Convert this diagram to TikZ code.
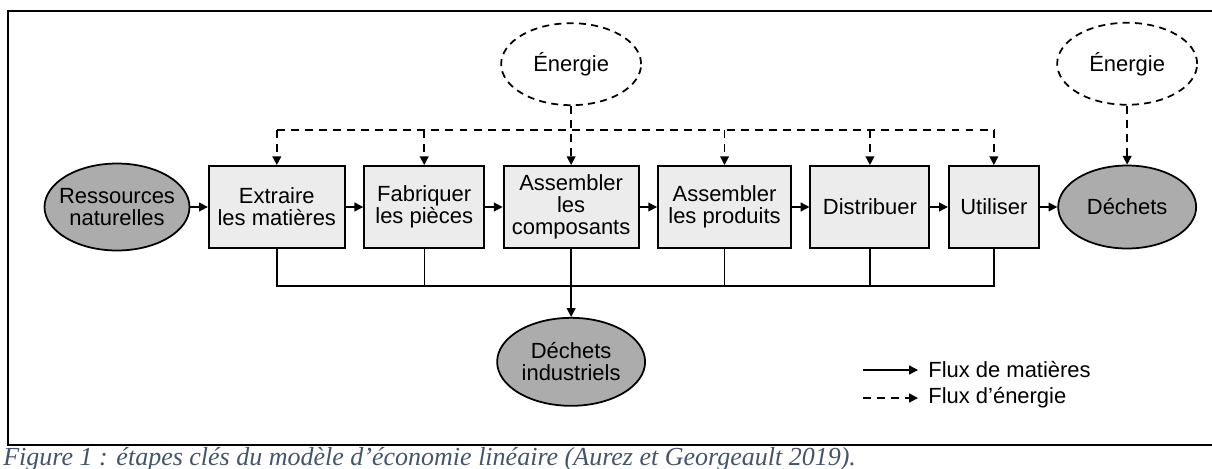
\documentclass[tikz,border=0pt]{standalone}
\usepackage{fontspec}
\setmainfont{Liberation Sans}
\newfontfamily\captionfont{Liberation Serif}
\usetikzlibrary{arrows.meta,positioning,shapes.geometric}
\definecolor{stagefill}{RGB}{236,236,236}
\definecolor{matterfill}{RGB}{172,172,172}
\definecolor{captionblue}{RGB}{68,84,106}

\begin{document}
\begin{tikzpicture}[x=0.02cm, y=-0.02cm,
    every node/.style={font=\fontsize{12.5}{12.5}\selectfont},
    stage/.style={draw, line width=1.1pt, fill=stagefill, minimum height=1.64cm, align=center, inner sep=1pt},
    matter/.style={draw, ellipse, line width=1pt, fill=matterfill, align=center, inner xsep=-5pt, inner ysep=0pt},
    energy/.style={draw, ellipse, line width=1pt, dash pattern=on 4pt off 3pt, minimum width=2.8cm, minimum height=1.64cm},
    mflow/.style={line width=0.8pt},
    eflow/.style={line width=0.9pt, dash pattern=on 4.5pt off 3.5pt},
    >={Triangle[length=5pt,width=5pt]},
    node distance=0.35cm]
    \useasboundingbox (0,0) rectangle (1212,468);
    \draw[line width=1.2pt] (1212,11) -- (8,11) -- (8,445) -- (1212,445);

    \node[matter, minimum width=2.9cm, minimum height=1.74cm] (res) at (117,207) {Ressources\\naturelles};
    \node[stage, minimum width=2.72cm, right=of res] (ext) {Extraire\\les matières};
    \node[stage, minimum width=2.4cm, right=of ext] (fab) {Fabriquer\\les pièces};
    \node[stage, minimum width=2.7cm, right=of fab] (comp) {Assembler\\les\\composants};
    \node[stage, minimum width=2.66cm, right=of comp] (prod) {Assembler\\les produits};
    \node[stage, minimum width=2.38cm, right=of prod] (dist) {Distribuer};
    \node[stage, minimum width=1.8cm, right=of dist] (util) {Utiliser};
    \node[matter, minimum width=2.76cm, minimum height=1.66cm, right=of util] (dech) {Déchets};
    \node[energy, above=1.18cm of comp] (en1) {Énergie};
    \node[energy, above=1.18cm of dech] (en2) {Énergie};
    \node[matter, minimum width=2.96cm, minimum height=1.76cm, below=1.36cm of comp] (dind) {Déchets\\industriels};

    \coordinate (ebus) at (0,130);
    \coordinate (mbus) at (0,286);
    \draw[eflow] (ebus -| ext) -- (ebus -| util);
    \foreach \s in {ext,fab,prod,dist,util}
        \draw[eflow,->] (ebus -| \s) -- (\s);
    \draw[eflow,->] (en1) -- (comp);
    \draw[eflow,->] (en2) -- (dech);

    \foreach \a/\b in {res/ext,ext/fab,fab/comp,comp/prod,prod/dist,dist/util,util/dech}
        \draw[mflow,->] (\a) -- (\b);
    \draw[mflow] (ext) -- (ext |- mbus) -- (util |- mbus) -- (util);
    \foreach \s in {fab,prod,dist}
        \draw[mflow] (\s) -- (\s |- mbus);
    \draw[mflow,->] (comp) -- (dind);

    \coordinate (lgm) at (863,370);
    \coordinate (lge) at (863,398);
    \node[anchor=west, inner xsep=5.7pt, inner ysep=0pt] (lgmt) at (918,370) {Flux de matières};
    \node[anchor=west, inner xsep=5.7pt, inner ysep=0pt] (lget) at (918,398) {Flux d’énergie};
    \draw[mflow,->] (lgm) -- (lgmt.west);
    \draw[eflow,->] (lge) -- (lget.west);

    \node[anchor=base west, inner sep=0pt, text=captionblue,
          font=\captionfont\itshape\fontsize{14.8}{15}\selectfont] (cap) at (3,465)
          {Figure 1 : étapes clés du modèle d’économie linéaire (Aurez et Georgeault 2019).};
\end{tikzpicture}
\end{document}
